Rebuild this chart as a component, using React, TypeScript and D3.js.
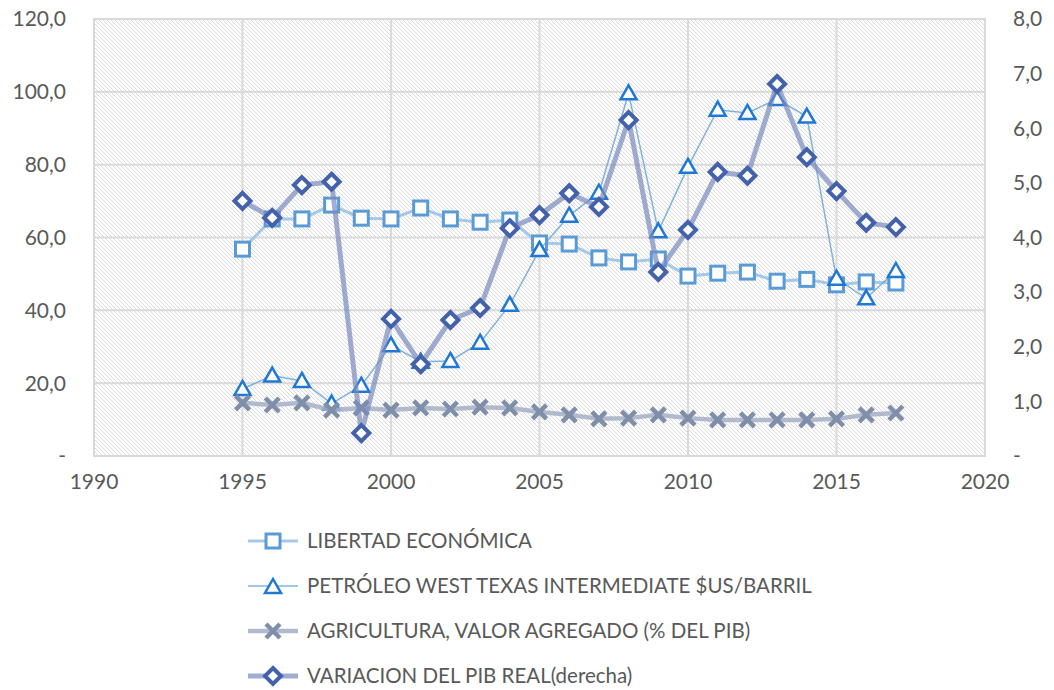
import React from "react";
import * as d3 from "d3";

const years = [1995,1996,1997,1998,1999,2000,2001,2002,2003,2004,2005,2006,2007,2008,2009,2010,2011,2012,2013,2014,2015,2016,2017];
const libertad = [56.8,65.1,65.1,68.9,65.3,65.1,68.1,65.1,64.2,64.8,58.5,58.2,54.4,53.3,54.1,49.4,50.2,50.5,48.0,48.5,47.0,47.8,47.5];
const petroleo = [18.4,22.1,20.6,14.4,19.3,30.4,25.9,26.1,31.1,41.5,56.6,66.0,72.3,99.6,61.7,79.4,95.1,94.2,98.0,93.2,48.7,43.3,50.8];
const agricultura = [14.6,14.0,14.6,12.6,13.2,12.6,13.2,12.9,13.4,13.2,12.1,11.3,10.2,10.4,11.3,10.4,9.9,9.9,9.9,9.9,10.2,11.3,11.8];
const pib = [4.67,4.36,4.96,5.02,0.42,2.51,1.68,2.49,2.71,4.17,4.41,4.81,4.56,6.15,3.37,4.14,5.2,5.13,6.81,5.47,4.85,4.27,4.19];

const xTicks = [1990,1995,2000,2005,2010,2015,2020];
const leftTicks = [0,20,40,60,80,100,120];
const rightTicks = [0,1,2,3,4,5,6,7,8];
const legendLabels = [
  "LIBERTAD ECONÓMICA",
  "PETRÓLEO WEST TEXAS INTERMEDIATE $US/BARRIL",
  "AGRICULTURA, VALOR AGREGADO (% DEL PIB)",
  "VARIACION DEL PIB REAL(derecha)",
];

const L = 94, R = 985, T = 19, B = 456;
const FONT = "Lato, 'Open Sans', sans-serif";
const TXT = "#595959";

const fmt = (v: number) => (v === 0 ? "-" : v.toFixed(1).replace(".", ","));

const C = {
  sqStroke: "#5B9BD5", sqLine: "rgba(157,195,230,0.9)",
  triStroke: "#1F78D4", triLine: "rgba(91,155,213,0.75)",
  xStroke: "#7F8FAA", xLine: "rgba(165,175,198,0.85)",
  diaStroke: "#4461AB", diaLine: "rgba(120,138,190,0.7)",
};

function Square({ x, y }: { x: number; y: number }) {
  return <rect x={x - 7} y={y - 7} width={14} height={14} fill="#fff" stroke={C.sqStroke} strokeWidth={3} />;
}
function Tri({ x, y }: { x: number; y: number }) {
  const s = 8;
  return <path d={`M${x},${y - s} L${x + s},${y + s * 0.75} L${x - s},${y + s * 0.75} Z`} fill="#fff" stroke={C.triStroke} strokeWidth={2.5} strokeLinejoin="miter" />;
}
function XMark({ x, y }: { x: number; y: number }) {
  const s = 7;
  return <path d={`M${x - s},${y - s} L${x + s},${y + s} M${x - s},${y + s} L${x + s},${y - s}`} stroke={C.xStroke} strokeWidth={4.5} strokeLinecap="butt" />;
}
function Dia({ x, y }: { x: number; y: number }) {
  const s = 8;
  return <path d={`M${x},${y - s} L${x + s},${y} L${x},${y + s} L${x - s},${y} Z`} fill="#fff" stroke={C.diaStroke} strokeWidth={4} strokeLinejoin="miter" />;
}

export default function App() {
  const x = d3.scaleLinear().domain([1990, 2020]).range([L, R]);
  const yL = d3.scaleLinear().domain([0, 120]).range([B, T]);
  const yR = d3.scaleLinear().domain([0, 8]).range([B, T]);

  const lineL = d3.line<number>().x((_, i) => x(years[i])).y((v) => yL(v));
  const lineR = d3.line<number>().x((_, i) => x(years[i])).y((v) => yR(v));

  const legendY = [541, 586, 631, 676];
  const legendMarkers = [
    (cx: number, cy: number) => <Square x={cx} y={cy} />,
    (cx: number, cy: number) => <Tri x={cx} y={cy + 1} />,
    (cx: number, cy: number) => <XMark x={cx} y={cy} />,
    (cx: number, cy: number) => <Dia x={cx} y={cy} />,
  ];
  const legendLines = [
    { c: C.sqLine, w: 3 },
    { c: C.triLine, w: 1.5 },
    { c: C.xLine, w: 4.5 },
    { c: C.diaLine, w: 5 },
  ];

  return (
    <svg width={1054} height={690} style={{ position: "absolute", left: 0, top: 0, fontFamily: FONT }}>
      <defs>
        <pattern id="hatch" width={4} height={4} patternUnits="userSpaceOnUse" x={L} y={T}>
          <rect width={4} height={4} fill="#fff" />
          <g fill="#dadada" shapeRendering="crispEdges">
            <rect x={0} y={0} width={1} height={1} />
            <rect x={1} y={1} width={1} height={1} />
            <rect x={2} y={2} width={1} height={1} />
            <rect x={3} y={3} width={1} height={1} />
          </g>
        </pattern>
      </defs>
      <rect width={1054} height={690} fill="#fff" />
      <rect x={L} y={T} width={R - L} height={B - T} fill="url(#hatch)" />
      {leftTicks.map((t) => (
        <line key={"h" + t} x1={L} x2={R} y1={yL(t)} y2={yL(t)} stroke="#d9d9d9" strokeWidth={2} />
      ))}
      {xTicks.map((t) => (
        <line key={"v" + t} x1={x(t)} x2={x(t)} y1={T} y2={B} stroke="#d9d9d9" strokeWidth={2} />
      ))}
      <rect x={L} y={T} width={R - L} height={B - T} fill="none" stroke="#d9d9d9" strokeWidth={2} />

      {leftTicks.map((t) => (
        <text key={"lt" + t} x={66} y={yL(t)} dy="0.35em" textAnchor="end" fontSize={21} fill={TXT}>{fmt(t)}</text>
      ))}
      {rightTicks.map((t) => (
        <text key={"rt" + t} x={1013} y={yR(t)} dy="0.35em" textAnchor="start" fontSize={21} fill={TXT}>{fmt(t)}</text>
      ))}
      {xTicks.map((t) => (
        <text key={"xt" + t} x={x(t)} y={482} dy="0.35em" textAnchor="middle" fontSize={21} fill={TXT}>{t}</text>
      ))}

      <path d={lineL(libertad) || ""} fill="none" stroke={C.sqLine} strokeWidth={3} />
      {libertad.map((v, i) => <Square key={"s" + i} x={x(years[i])} y={yL(v)} />)}
      <path d={lineL(petroleo) || ""} fill="none" stroke={C.triLine} strokeWidth={1.5} />
      {petroleo.map((v, i) => <Tri key={"t" + i} x={x(years[i])} y={yL(v)} />)}
      <path d={lineL(agricultura) || ""} fill="none" stroke={C.xLine} strokeWidth={4.5} />
      {agricultura.map((v, i) => <XMark key={"x" + i} x={x(years[i])} y={yL(v)} />)}
      <path d={lineR(pib) || ""} fill="none" stroke={C.diaLine} strokeWidth={5} />
      {pib.map((v, i) => <Dia key={"d" + i} x={x(years[i])} y={yR(v)} />)}

      {legendLabels.map((lab, i) => (
        <g key={"lg" + i}>
          <line x1={248} x2={298} y1={legendY[i]} y2={legendY[i]} stroke={legendLines[i].c} strokeWidth={legendLines[i].w} />
          {legendMarkers[i](273, legendY[i])}
          <text x={307} y={legendY[i]} dy="0.35em" fontSize={20.5} fill={TXT}>{lab}</text>
        </g>
      ))}
    </svg>
  );
}
